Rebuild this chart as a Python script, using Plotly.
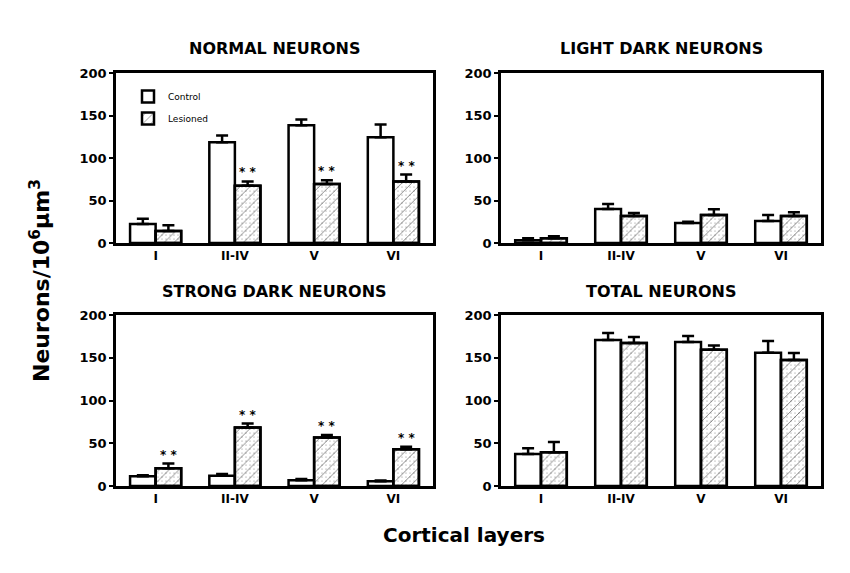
import plotly.graph_objects as go

categories = ["I", "II-IV", "V", "VI"]

panel_titles = ["NORMAL NEURONS", "LIGHT DARK NEURONS", "STRONG DARK NEURONS", "TOTAL NEURONS"]

normal_control = [22.4, 118.4, 138.4, 124.3]
normal_control_err = [6.0, 8.0, 7.0, 15.0]
normal_lesioned = [14.1, 67.5, 69.4, 72.5]
normal_lesioned_err = [6.7, 5.0, 4.5, 8.0]
normal_sig = [False, True, True, True]

light_control = [3.1, 40.0, 23.5, 25.9]
light_control_err = [2.4, 6.0, 1.6, 7.0]
light_lesioned = [5.5, 31.8, 33.0, 31.8]
light_lesioned_err = [2.3, 3.5, 6.7, 4.3]
light_sig = [False, False, False, False]

strong_control = [11.3, 12.1, 6.6, 5.5]
strong_control_err = [1.2, 2.0, 1.6, 0.8]
strong_lesioned = [20.7, 68.4, 56.6, 43.0]
strong_lesioned_err = [5.5, 4.7, 3.1, 3.0]
strong_sig = [True, True, True, True]

total_control = [37.5, 170.7, 168.4, 155.9]
total_control_err = [6.6, 8.2, 7.0, 13.7]
total_lesioned = [39.5, 167.2, 159.4, 147.3]
total_lesioned_err = [12.0, 7.0, 5.0, 8.2]
total_sig = [False, False, False, False]

y_ticks = [0, 50, 100, 150, 200]

panels = [
    (normal_control, normal_control_err, normal_lesioned, normal_lesioned_err, normal_sig),
    (light_control, light_control_err, light_lesioned, light_lesioned_err, light_sig),
    (strong_control, strong_control_err, strong_lesioned, strong_lesioned_err, strong_sig),
    (total_control, total_control_err, total_lesioned, total_lesioned_err, total_sig),
]

W, H = 850, 573
OFF = 8  # page body margin offset
FONT = "DejaVu Sans"


def px(x):
    return (x - OFF) / W


def py(y):
    return 1 - (y - OFF) / H


x_domains = [[px(116), px(433)], [px(501), px(821)]]
y_domains = [[py(243), py(73)], [py(486), py(315)]]
title_y = [48, 292]

fig = go.Figure()
layout = {}
annotations = []

for i, (c, ce, l, le, sig) in enumerate(panels):
    n = i + 1
    xa = "x" if n == 1 else f"x{n}"
    ya = "y" if n == 1 else f"y{n}"
    fig.add_trace(go.Bar(
        x=categories, y=c, name="Control", offsetgroup="C",
        marker=dict(color="white", line=dict(color="black", width=2.5)),
        error_y=dict(type="data", array=ce, arrayminus=[0] * len(ce), symmetric=False,
                     color="black", thickness=2.5, width=6),
        xaxis=xa, yaxis=ya, showlegend=(n == 1), legendgroup="C",
    ))
    fig.add_trace(go.Bar(
        x=categories, y=l, name="Lesioned", offsetgroup="L",
        marker=dict(color="white", line=dict(color="black", width=2.5),
                    pattern=dict(shape="/", fgcolor="black", bgcolor="white", size=7, solidity=0.13)),
        error_y=dict(type="data", array=le, arrayminus=[0] * len(le), symmetric=False,
                     color="black", thickness=2.5, width=6),
        xaxis=xa, yaxis=ya, showlegend=(n == 1), legendgroup="L",
    ))
    fig.add_trace(go.Bar(
        x=categories, y=l, name="Lesioned dots", offsetgroup="L",
        marker=dict(color="rgba(0,0,0,0)", line=dict(color="black", width=2.5),
                    pattern=dict(shape=".", fgcolor="black", bgcolor="rgba(0,0,0,0)", size=4,
                                 solidity=0.06, fillmode="overlay")),
        xaxis=xa, yaxis=ya, showlegend=False, hoverinfo="skip",
    ))
    col = i % 2
    row = i // 2
    key_x = "xaxis" if n == 1 else f"xaxis{n}"
    key_y = "yaxis" if n == 1 else f"yaxis{n}"
    layout[key_x] = dict(
        domain=x_domains[col], anchor=ya, type="category", range=[-0.5, 3.5],
        showline=True, linecolor="black", linewidth=2.5, mirror=True,
        ticks="", showgrid=False, zeroline=False, automargin=False,
        tickfont=dict(family=FONT, size=12, color="black", weight="bold"),
    )
    layout[key_y] = dict(
        domain=y_domains[row], anchor=xa, range=[0, 200], tickvals=y_ticks,
        showline=True, linecolor="black", linewidth=2.5, mirror=True,
        ticks="outside", ticklen=4, tickwidth=2, tickcolor="black",
        showgrid=False, zeroline=False, automargin=False,
        tickfont=dict(family=FONT, size=13, color="black", weight="bold"),
    )
    # panel title
    annotations.append(dict(
        text=panel_titles[i], xref="paper", yref="paper",
        x=sum(x_domains[col]) / 2, y=py(title_y[row]),
        xanchor="center", yanchor="middle", showarrow=False,
        font=dict(family=FONT, size=16, color="black", weight="bold"),
    ))
    # significance stars
    for k, s in enumerate(sig):
        if s:
            annotations.append(dict(
                text="* *", xref=xa, yref=ya, x=categories[k], y=l[k] + le[k],
                xshift=12.8, yshift=0, xanchor="center", yanchor="bottom", showarrow=False,
                font=dict(family=FONT, size=12, color="black", weight="bold"),
            ))

annotations.append(dict(
    text="Neurons/10<sup>6</sup>µm<sup>3</sup>", xref="paper", yref="paper",
    x=px(40), y=py(281), textangle=-90, xanchor="center", yanchor="middle",
    showarrow=False, font=dict(family=FONT, size=22, color="black", weight="bold"),
))
annotations.append(dict(
    text="Cortical layers", xref="paper", yref="paper",
    x=px(464), y=py(535), xanchor="center", yanchor="middle",
    showarrow=False, font=dict(family=FONT, size=20, color="black", weight="bold"),
))

fig.update_layout(
    width=W, height=H, margin=dict(l=0, r=0, t=0, b=0, autoexpand=False),
    paper_bgcolor="white", plot_bgcolor="white",
    barmode="group", bargap=0.355, bargroupgap=0,
    annotations=annotations,
    legend=dict(x=px(128), y=py(82), xanchor="left", yanchor="top",
                bgcolor="rgba(0,0,0,0)", tracegroupgap=3,
                font=dict(family=FONT, size=9, color="black")),
    **layout,
)

fig.write_html("out.html")
